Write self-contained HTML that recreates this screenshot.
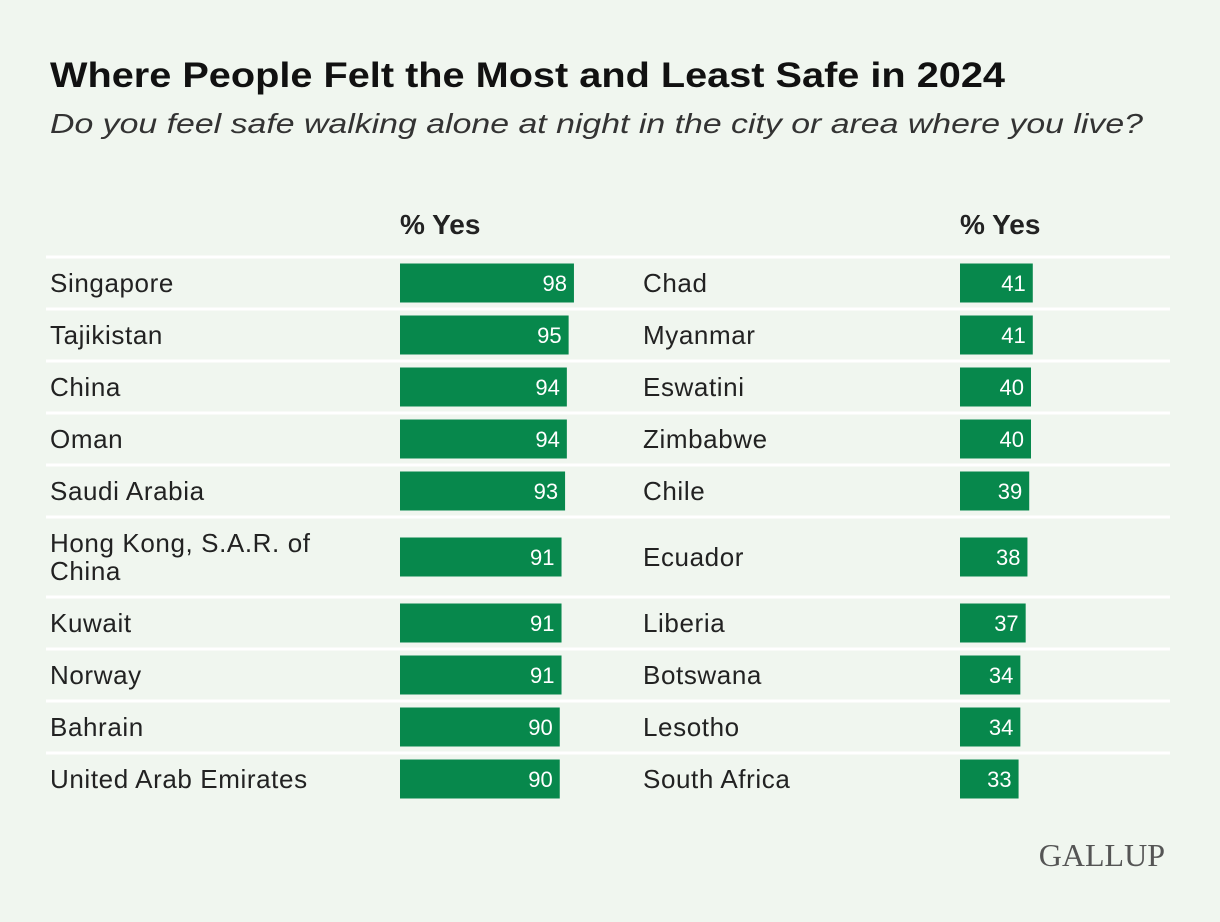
<!DOCTYPE html>
<html><head><meta charset="utf-8"><style>
body{margin:0;background:#f0f6ef;}
svg{display:block;font-family:"Liberation Sans",sans-serif;}
</style></head><body>
<svg id="c" width="1220" height="922">
<rect width="1220" height="922" fill="#f0f6ef"/>
<text x="50" y="87" font-size="35" font-weight="bold" fill="#111" textLength="955" lengthAdjust="spacingAndGlyphs">Where People Felt the Most and Least Safe in 2024</text>
<text x="50" y="133" font-size="28" font-style="italic" fill="#333" textLength="1093" lengthAdjust="spacingAndGlyphs">Do you feel safe walking alone at night in the city or area where you live?</text>
<text x="400" y="234" font-size="28" font-weight="bold" fill="#222">% Yes</text>
<text x="960" y="234" font-size="28" font-weight="bold" fill="#222">% Yes</text>
<text x="1165" y="866" font-size="32" font-family="Liberation Serif,serif" fill="#555" text-anchor="end">GALLUP</text>
<g id="rows"></g>
</svg>
<script>
const leftCountries=["Singapore","Tajikistan","China","Oman","Saudi Arabia","Hong Kong, S.A.R. of|China","Kuwait","Norway","Bahrain","United Arab Emirates"];
const leftValues=[98,95,94,94,93,91,91,91,90,90];
const rightCountries=["Chad","Myanmar","Eswatini","Zimbabwe","Chile","Ecuador","Liberia","Botswana","Lesotho","South Africa"];
const rightValues=[41,41,40,40,39,38,37,34,34,33];
const NS="http://www.w3.org/2000/svg";
const g=document.getElementById('rows');
const scale=v=>v*1.775;
function mk(t,a){const e=document.createElementNS(NS,t);for(const k in a)e.setAttribute(k,a[k]);g.appendChild(e);return e;}
let y=257;
for(let i=0;i<leftValues.length;i++){
  const h=(leftCountries[i].includes('|'))?80:52;
  const line=mk('rect',{x:46,y:y-1.5,width:1124,height:3,fill:'#fff'});
  
  
  const cy=y+h/2;
  [[leftCountries[i],leftValues[i],50,400,'left'],[rightCountries[i],rightValues[i],643,960,'right']].forEach(([name,v,lx,bx,side])=>{
    const parts=name.split('|');
    const t=mk('text',{x:lx,y:cy+9-(parts.length-1)*14,'font-size':26,'letter-spacing':0.6,fill:'#222'});
    
    
    parts.forEach((p,j)=>{const s=document.createElementNS(NS,'tspan');s.setAttribute('x',lx);if(j)s.setAttribute('dy',28);s.textContent=p;t.appendChild(s);});
    const w=scale(v);
    const b=mk('rect',{x:bx,y:cy-19.5,width:w,height:39,fill:'#07884c'});
    
    
    const vt=mk('text',{x:bx+w-7,y:cy+8,'font-size':22,fill:'#fff','text-anchor':'end'});
    vt.textContent=v;
    
    
  });
  y+=h;
}
</script>
</body></html>
